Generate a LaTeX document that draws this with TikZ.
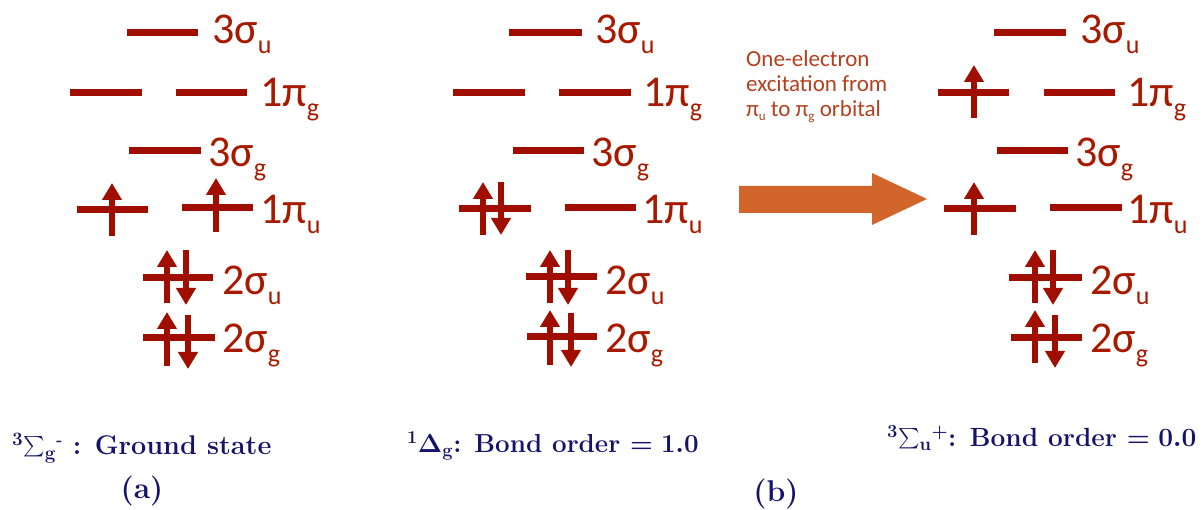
\RequirePackage{fix-cm}
\documentclass[tikz,border=0pt]{standalone}
\usepackage{exscale}
\usepackage{graphicx}
\usepackage{fontspec}
\newfontfamily\carl{Carlito}
\usetikzlibrary{arrows.meta}
\definecolor{lvl}{HTML}{A00E00}
\definecolor{lab}{HTML}{A81A00}
\definecolor{navy}{HTML}{14146C}
\definecolor{orng}{HTML}{D2652A}
\definecolor{note}{HTML}{B4401E}
\newcommand\orbl[2]{#1\raisebox{-10pt}{\fontsize{26}{30}\selectfont #2}}
\newcommand\nsub[1]{\raisebox{-4pt}{\fontsize{13}{15}\selectfont #1}}
\newcommand\bigsig{\mathord{\raisebox{2.5pt}{\scalebox{0.82}{$\textstyle\sum$}}}}
\newcommand\shortdash{\mbox{\fontsize{16}{16}\selectfont -}}
\tikzset{
  level/.style={draw=lvl, line width=7pt},
  eup/.style={draw=lvl, line width=6pt, -{Triangle[width=19pt,length=17pt]}},
  orblab/.style={anchor=base west, inner sep=0pt, text=lab, font=\carl\fontsize{44}{48}\selectfont},
  state/.style={anchor=base west, inner sep=0pt, text=navy, font=\fontsize{27}{32}\selectfont\bfseries\boldmath},
  panel/.style={anchor=base, inner sep=0pt, text=navy, font=\fontsize{30}{36}\selectfont\bfseries},
  notetext/.style={anchor=base west, inner sep=0pt, text=note, align=left, font=\carl\fontsize{23}{25}\selectfont},
}
\begin{document}
\begin{tikzpicture}[x=1pt,y=-1pt]
\useasboundingbox (0,0) rectangle (1203,510);
% ---------- panel a ----------
\draw[level] (127,33) -- (198,33);
\node[orblab] (a3su) at (212,44) {\orbl{3σ}{u}};
\draw[level] (70,93) -- (142,93);
\draw[level] (176,93) -- (247,93);
\node[orblab] (a1pg) at (260,107) {\orbl{1π}{g}};
\draw[level] (129,151) -- (201,151);
\node[orblab] (a3sg) at (208,167) {\orbl{3σ}{g}};
\draw[level] (77,210) -- (148,210);
\draw[level] (182,208) -- (253,208);
\draw[eup] (112,236) -- (112,183);
\draw[eup] (216,232) -- (216,178);
\node[orblab] (a1pu) at (260,224) {\orbl{1π}{u}};
\draw[level] (143,278) -- (213,278);
\draw[eup] (167,303) -- (167,250);
\draw[eup] (186,250) -- (186,305);
\node[orblab] (a2su) at (222,295) {\orbl{2σ}{u}};
\draw[level] (143,338) -- (215,338);
\draw[eup] (167,366) -- (167,312);
\draw[eup] (188,315) -- (188,369);
\node[orblab] (a2sg) at (222,353) {\orbl{2σ}{g}};
% ---------- panel b ----------
\draw[level] (509,33) -- (582,33);
\node[orblab] (b3su) at (595,44) {\orbl{3σ}{u}};
\draw[level] (453,93) -- (525,93);
\draw[level] (559,93) -- (631,93);
\node[orblab] (b1pg) at (643,107) {\orbl{1π}{g}};
\draw[level] (513,151) -- (584,151);
\node[orblab] (b3sg) at (591,167) {\orbl{3σ}{g}};
\draw[level] (459,209) -- (531,209);
\draw[eup] (483,235) -- (483,182);
\draw[eup] (501,182) -- (501,235);
\draw[level] (565,208) -- (636,208);
\node[orblab] (b1pu) at (642,224) {\orbl{1π}{u}};
\draw[level] (526,277) -- (597,277);
\draw[eup] (550,303) -- (550,250);
\draw[eup] (568,250) -- (568,305);
\node[orblab] (b2su) at (605,295) {\orbl{2σ}{u}};
\draw[level] (527,337) -- (597,337);
\draw[eup] (550,365) -- (550,310);
\draw[eup] (571,313) -- (571,367);
\node[orblab] (b2sg) at (605,353) {\orbl{2σ}{g}};
% ---------- panel c ----------
\draw[level] (994,33) -- (1066,33);
\node[orblab] (c3su) at (1080,44) {\orbl{3σ}{u}};
\draw[level] (938,93) -- (1009,93);
\draw[eup] (974,118) -- (974,65);
\draw[level] (1044,93) -- (1115,93);
\node[orblab] (c1pg) at (1127,107) {\orbl{1π}{g}};
\draw[level] (997,151) -- (1068,151);
\node[orblab] (c3sg) at (1075,167) {\orbl{3σ}{g}};
\draw[level] (944,209) -- (1016,209);
\draw[eup] (974,235) -- (974,182);
\draw[level] (1050,208) -- (1122,208);
\node[orblab] (c1pu) at (1127,224) {\orbl{1π}{u}};
\draw[level] (1009,278) -- (1082,278);
\draw[eup] (1035,303) -- (1035,250);
\draw[eup] (1053,250) -- (1053,305);
\node[orblab] (c2su) at (1090,295) {\orbl{2σ}{u}};
\draw[level] (1011,338) -- (1082,338);
\draw[eup] (1035,363) -- (1035,310);
\draw[eup] (1055,315) -- (1055,368);
\node[orblab] (c2sg) at (1090,353) {\orbl{2σ}{g}};
% ---------- excitation arrow ----------
\fill[orng] (739,186) -- (872,186) -- (872,173) -- (927,199) -- (872,225) -- (872,213) -- (739,213) -- cycle;
\node[notetext] (note) at (746,117) {One-electron\\excitation from\\π\nsub{u} to π\nsub{g} orbital};
% ---------- state labels ----------
\node[state] (sa) at (12,455) {${}^{3}\bigsig_{\mathbf{g}}{}^{\shortdash}$ : Ground state};
\node[panel] (pa) at (142,499) {(a)};
\node[state, font=\fontsize{26}{31}\selectfont\bfseries\boldmath] (sb) at (407,453) {${}^{1}\Delta_{\mathbf{g}}$: Bond order $=1.0$};
\node[panel] (pb) at (776,502) {(b)};
\node[state, font=\fontsize{26.3}{31}\selectfont\bfseries\boldmath] (sc) at (887,447) {${}^{3}\bigsig_{\mathbf{u}}{}^{+}$: Bond order $=0.0$};
\end{tikzpicture}
\end{document}
